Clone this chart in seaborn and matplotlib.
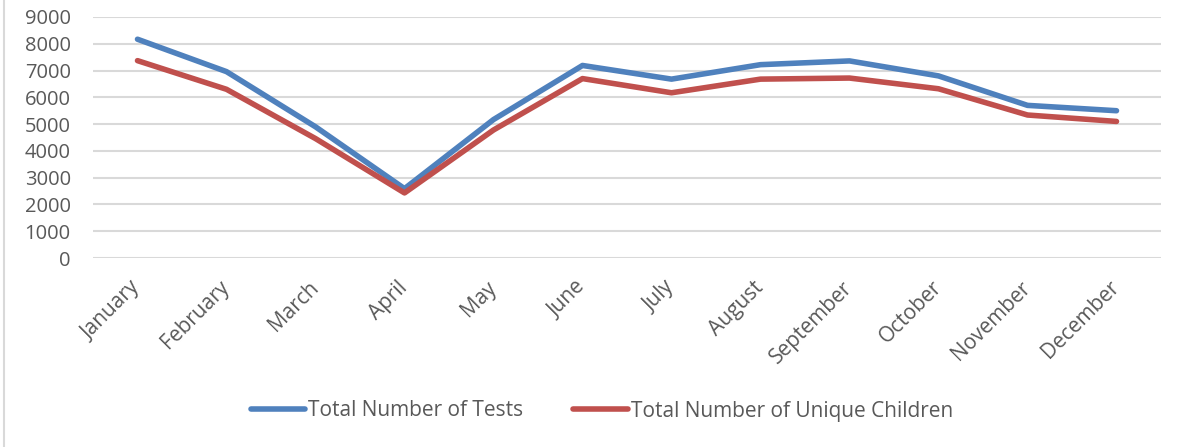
import matplotlib
matplotlib.use("Agg")
import matplotlib.pyplot as plt
import seaborn as sns
import pandas as pd
from matplotlib.lines import Line2D

months = ["January", "February", "March", "April", "May", "June", "July",
          "August", "September", "October", "November", "December"]
total_tests = [8170, 6960, 4900, 2590, 5170, 7190, 6680, 7220, 7360, 6800, 5700, 5500]
unique_children = [7370, 6300, 4460, 2430, 4780, 6700, 6170, 6680, 6720, 6320, 5340, 5100]
series_names = ["Total Number of Tests", "Total Number of Unique Children"]
y_ticks = [0, 1000, 2000, 3000, 4000, 5000, 6000, 7000, 8000, 9000]

df = pd.DataFrame({
    "Month": months * 2,
    "Value": total_tests + unique_children,
    "Series": [series_names[0]] * len(months) + [series_names[1]] * len(months),
})

sns.set_theme(style="white")
plt.rcParams["font.family"] = ["Open Sans", "DejaVu Sans"]
text_color = "#595959"

fig = plt.figure(figsize=(11.77, 4.47), dpi=100)
ax = fig.add_axes([93 / 1177, 1 - 258 / 447, (1161 - 93) / 1177, (258 - 17) / 447])

sns.lineplot(data=df, x="Month", y="Value", hue="Series", sort=False,
             palette=["#4F81BD", "#C0504D"], linewidth=4.0, ax=ax,
             solid_capstyle="round", solid_joinstyle="round")

ax.set_xlim(-0.5, len(months) - 0.5)
ax.set_ylim(0, 9000)
ax.set_yticks(y_ticks)
ax.set_yticklabels([str(v) for v in y_ticks])
ax.grid(axis="y", color="#D9D9D9", linewidth=1.5)
ax.set_axisbelow(True)
for s in ax.spines.values():
    s.set_visible(False)
ax.set_xlabel("")
ax.set_ylabel("")
ax.tick_params(axis="y", length=0, pad=16, labelsize=14.5, labelcolor=text_color)
ax.tick_params(axis="x", length=0, pad=19, labelsize=15, labelcolor=text_color)
ax.set_xticks(range(len(months)))
ax.set_xticklabels(months, rotation=45, ha="right", va="center", rotation_mode="anchor")

handles, labels = ax.get_legend_handles_labels()
ax.legend_.remove()
leg = fig.legend(handles, labels, loc="center", bbox_to_anchor=(602 / 1177, 1 - 411 / 447),
                 ncol=2, frameon=False, fontsize=15, handlelength=2.6,
                 handletextpad=0.15, columnspacing=2.4)
for t in leg.get_texts():
    t.set_color(text_color)

fig.add_artist(Line2D([4 / 1177, 4 / 1177], [0, 1], transform=fig.transFigure,
                      color="#D9D9D9", linewidth=1.5))

fig.savefig("out.png", dpi=100)
